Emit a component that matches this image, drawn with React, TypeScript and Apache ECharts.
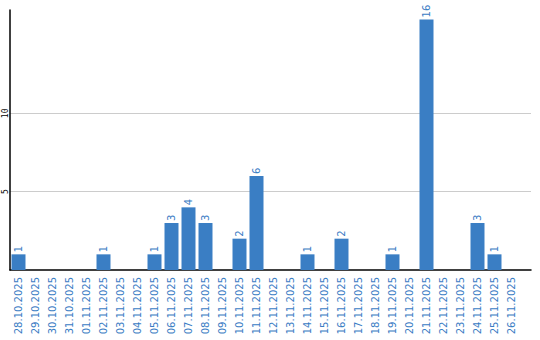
import React, { useEffect, useRef } from "react";
import * as echarts from "echarts";

const categories = [
  "28.10.2025", "29.10.2025", "30.10.2025", "31.10.2025", "01.11.2025",
  "02.11.2025", "03.11.2025", "04.11.2025", "05.11.2025", "06.11.2025",
  "07.11.2025", "08.11.2025", "09.11.2025", "10.11.2025", "11.11.2025",
  "12.11.2025", "13.11.2025", "14.11.2025", "15.11.2025", "16.11.2025",
  "17.11.2025", "18.11.2025", "19.11.2025", "20.11.2025", "21.11.2025",
  "22.11.2025", "23.11.2025", "24.11.2025", "25.11.2025", "26.11.2025",
];
const values = [
  1, 0, 0, 0, 0,
  1, 0, 0, 1, 3,
  4, 3, 0, 2, 6,
  0, 0, 1, 0, 2,
  0, 0, 1, 0, 16,
  0, 0, 3, 1, 0,
];
const yTickLabels = [5, 10];
const yMax = 16.6;
const yInterval = 5;

const BLUE = "#3a7ec4";
const TEXT_BLUE = "#3a7cc4";

export default function App() {
  const ref = useRef<HTMLDivElement>(null);
  useEffect(() => {
    if (!ref.current) return;
    document.body.style.margin = "0";
    const chart = echarts.init(ref.current, undefined, { renderer: "svg" });
    const ticks: number[] = [];
    for (let v = 0; v <= yMax; v += yInterval) ticks.push(v);
    ticks.push(yMax);
    const lineColors = ticks.map((t) =>
      yTickLabels.includes(t) ? "#cccccc" : "rgba(0,0,0,0)"
    );
    chart.setOption({
      animation: false,
      grid: [
        { left: 10, width: 510, top: 10, height: 260, outerBoundsMode: "none" },
        { left: 10, right: 9, top: 10, height: 260, outerBoundsMode: "none" },
      ],
      xAxis: [
        {
          type: "category",
          gridIndex: 0,
          data: categories,
          axisLine: { show: false },
          axisTick: { show: false },
          axisLabel: {
            interval: 0,
            rotate: 90,
            margin: 7,
            color: TEXT_BLUE,
            fontFamily: "DejaVu Sans",
            fontSize: 10,
          },
          splitLine: { show: false },
        },
        {
          type: "value",
          gridIndex: 1,
          min: 0,
          max: 1,
          axisLine: { show: true, lineStyle: { color: "#000", width: 1.5 } },
          axisTick: { show: false },
          axisLabel: { show: false },
          splitLine: { show: false },
        },
      ],
      yAxis: [
        {
          type: "value",
          gridIndex: 0,
          min: 0,
          max: yMax,
          show: false,
          splitLine: { show: false },
        },
        {
          type: "value",
          gridIndex: 1,
          min: 0,
          max: yMax,
          interval: yInterval,
          axisLine: { show: true, lineStyle: { color: "#000", width: 1.5 } },
          axisTick: { show: false },
          axisLabel: {
            show: true,
            rotate: 90,
            align: "center",
            verticalAlign: "middle",
            margin: 5,
            color: "#000",
            fontFamily: "DejaVu Sans Mono",
            fontSize: 8,
            formatter: (v: any) =>
              yTickLabels.includes(Number(v)) ? String(Number(v)) : "",
          },
          splitLine: {
            show: true,
            lineStyle: { color: lineColors, width: 1 },
          },
        },
      ],
      series: [
        {
          type: "bar",
          xAxisIndex: 0,
          yAxisIndex: 0,
          data: values,
          barWidth: 14,
          itemStyle: { color: BLUE },
          label: {
            show: true,
            position: "top",
            rotate: 90,
            align: "left",
            verticalAlign: "middle",
            distance: 2,
            color: TEXT_BLUE,
            fontFamily: "DejaVu Sans",
            fontSize: 10,
            formatter: (p: any) => (p.value > 0 ? String(p.value) : ""),
          },
        },
      ],
    });
    return () => chart.dispose();
  }, []);
  return <div ref={ref} style={{ width: 540, height: 340 }} />;
}
